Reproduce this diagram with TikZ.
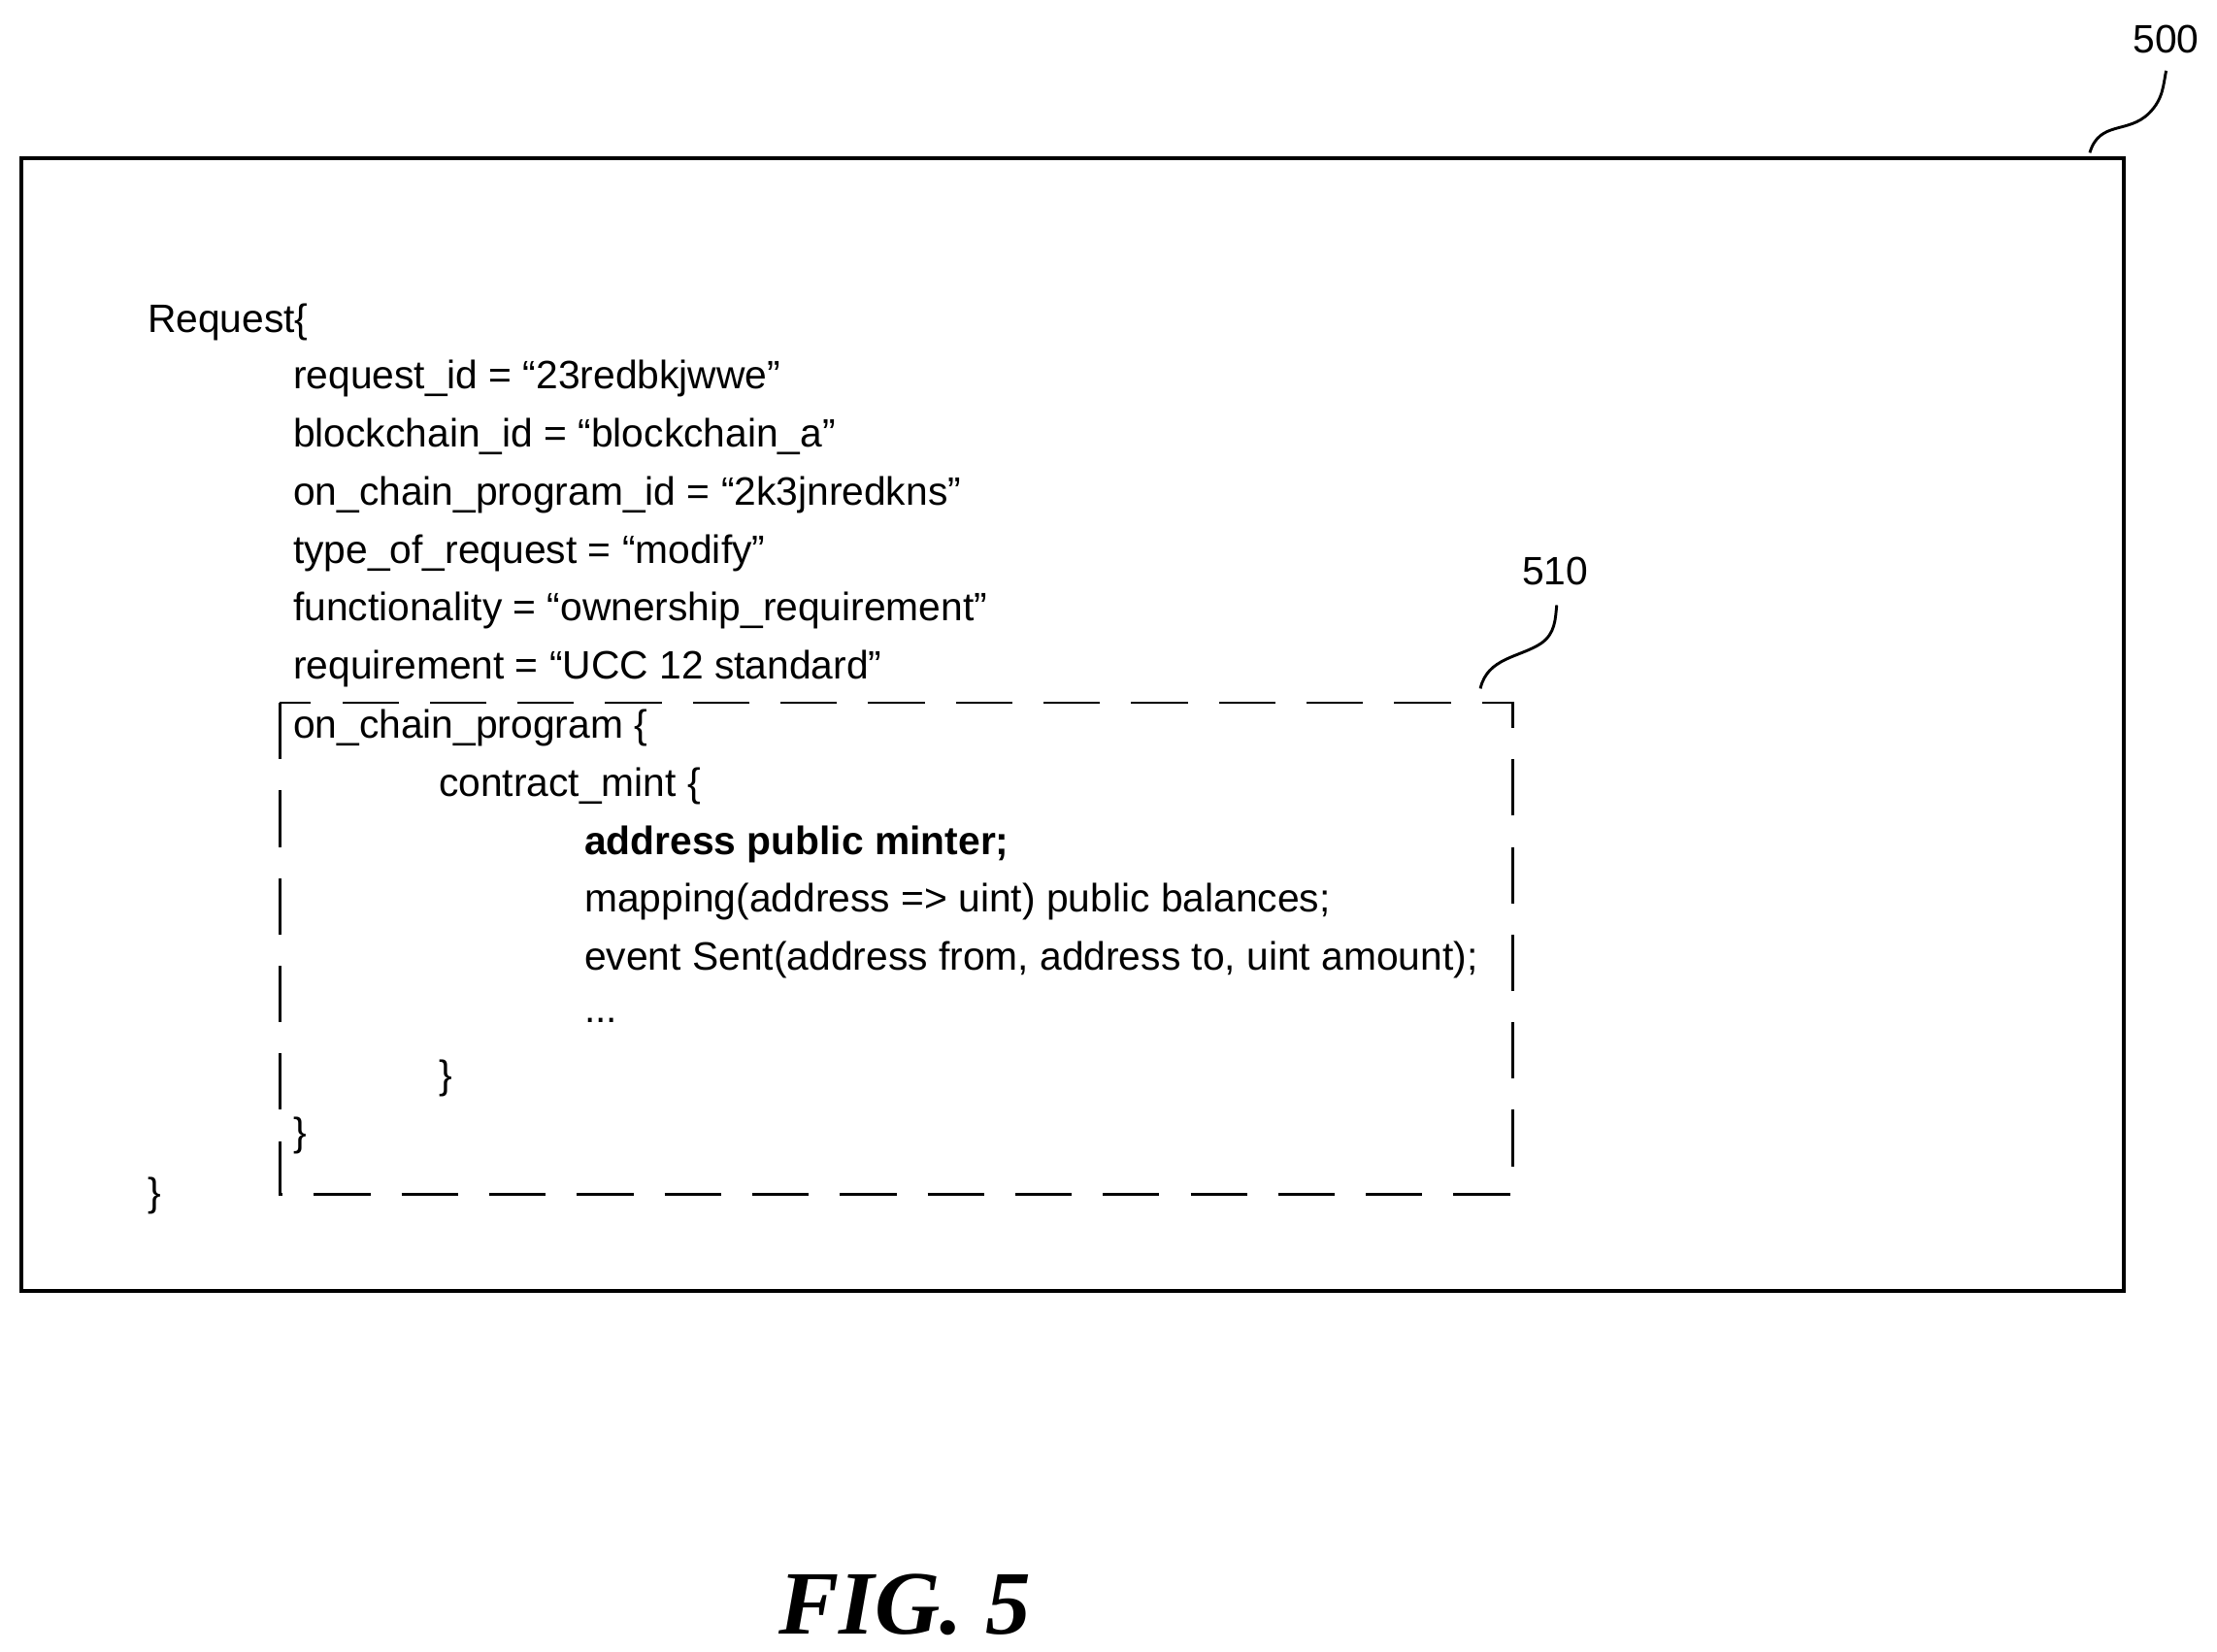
\documentclass[tikz,border=0pt]{standalone}
\usepackage{fontspec}
\setmainfont{Liberation Sans}
\newfontfamily\figfont{Liberation Serif}
\begin{document}
\begin{tikzpicture}[x=0.5pt,y=-0.5pt,
  code/.style={anchor=west,inner sep=0pt,font=\fontsize{14}{16}\selectfont},
  lbl/.style={inner sep=0pt,font=\fontsize{14}{16}\selectfont}]
\useasboundingbox (0,0) rectangle (1568,1168);
\draw[line width=1.2pt] (15,112) rectangle (1502,913);
\node[lbl] (l500) at (1532,28) {500};
\coordinate (a500) at (1478,108);
\draw[line width=1pt] (a500) .. controls (1485,85) and (1505,95) .. (1520,80) .. controls (1530,70) and (1530,60) .. (1532,50);
\draw[line width=1pt,dash pattern=on 20pt off 11pt] (198,497) rectangle (1070,845);
\node[lbl] (l510) at (1100,404) {510};
\coordinate (a510) at (1047,487);
\draw[line width=1pt] (a510) .. controls (1052,465) and (1075,465) .. (1090,455) .. controls (1100,448) and (1100,438) .. (1101,428);
\node[code] (t0) at (104,228) {Request\{};
\node[code] (t1) at (207,268) {request\_id = “23redbkjwwe”};
\node[code] (t2) at (207,309) {blockchain\_id = “blockchain\_a”};
\node[code] (t3) at (207,350) {on\_chain\_program\_id = “2k3jnredkns”};
\node[code] (t4) at (207,391) {type\_of\_request = “modify”};
\node[code] (t5) at (207,432) {functionality = “ownership\_requirement”};
\node[code] (t6) at (207,473) {requirement = “UCC 12 standard”};
\node[code] (t7) at (207,515) {on\_chain\_program \{};
\node[code] (t8) at (310,556) {contract\_mint \{};
\node[code,font=\fontsize{14}{16}\selectfont\bfseries] (t9) at (413,597) {address public minter;};
\node[code] (t10) at (413,638) {mapping(address => uint) public balances;};
\node[code] (t11) at (413,679) {event Sent(address from, address to, uint amount);};
\node[code] (t12) at (413,722) {...};
\node[code] (t13) at (310,763) {\}};
\node[code] (t14) at (207,803) {\}};
\node[code] (t15) at (104,846) {\}};
\node[inner sep=0pt,font=\fontsize{32}{36}\figfont\bfseries\itshape] (fig) at (640,1135) {FIG. 5};
\end{tikzpicture}
\end{document}
